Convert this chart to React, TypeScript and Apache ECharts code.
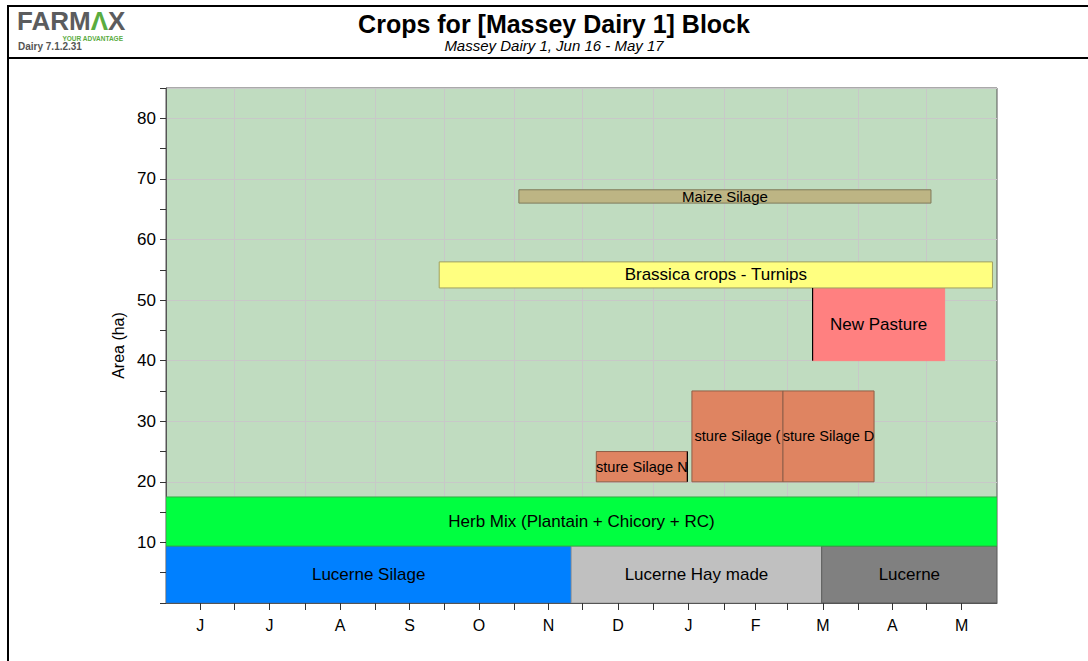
import React, { useEffect, useRef } from 'react';
import * as echarts from 'echarts';

// Days counted from 1 Jun 2016; the season ends 1 Jun 2017 (day 365)
const monthLabels = ['J', 'J', 'A', 'S', 'O', 'N', 'D', 'J', 'F', 'M', 'A', 'M'];
const monthStarts = [0, 30, 61, 92, 122, 153, 183, 214, 245, 273, 304, 334, 365];
const monthMids = monthLabels.map((_, i) => (monthStarts[i] + monthStarts[i + 1]) / 2);

// Crops (area bands in ha, time span in days)
const cropNames = [
  'Lucerne Silage',
  'Lucerne Hay made',
  'Lucerne',
  'Herb Mix (Plantain + Chicory + RC)',
  'sture Silage N',
  'sture Silage (',
  'sture Silage D',
  'New Pasture',
  'Brassica crops - Turnips',
  'Maize Silage',
];
const cropStart = [0, 178, 288, 0, 189, 231, 271, 284, 120, 155];
const cropEnd = [178, 288, 365, 365, 229, 271, 311, 342, 363, 336];
const cropLow = [0, 0, 0, 9.4, 20, 20, 20, 40, 52, 66];
const cropHigh = [9.4, 9.4, 9.4, 17.5, 25, 35, 35, 52, 56.3, 68.2];

// Dark edges seen on some blocks: [day, low, high]
const edgeDay = [284, 229];
const edgeLow = [40, 20];
const edgeHigh = [52, 25];

const yTicksMax = 80;

// styles (kept apart from the data)
const cropColors = ['#0080ff', '#c0c0c0', '#808080', '#00ff40', '#df8461', '#df8461', '#df8461', '#ff8080', '#ffff80', '#bdb584'];
const cropStrokes = ['#2a70c0', '#9a9a9a', '#5a5a5a', '#30b040', '#8f5f48', '#8f5f48', '#8f5f48', '#ff8080', '#a0a060', '#7f7a5a'];
const cropFontSize = [17, 17, 17, 17, 14.6, 14.6, 14.6, 17, 17, 15];

const FONT = '"Liberation Sans", Arial, sans-serif';

export default function App() {
  const ref = useRef<HTMLDivElement>(null);

  useEffect(() => {
    if (!ref.current) return;
    const chart = echarts.init(ref.current, null, { renderer: 'svg' });

    const cropData = cropNames.map((n, i) => ({
      name: n,
      value: [cropStart[i], cropEnd[i], cropLow[i], cropHigh[i]],
    }));
    const edgeData = edgeDay.map((d, i) => [d, edgeLow[i], edgeHigh[i]]);

    const option: any = {
      animation: false,
      textStyle: { fontFamily: FONT },
      grid: {
        left: 166,
        top: 88,
        right: 91,
        bottom: 58,
        show: true,
        backgroundColor: '#c0dcc0',
        borderColor: '#555',
        borderWidth: 1,
        outerBoundsMode: 'none',
      },
      xAxis: [
        {
          type: 'value',
          min: 0,
          max: 365,
          axisLine: { show: true, onZero: false, lineStyle: { color: '#555', width: 1 } },
          axisTick: { show: true, length: 7, customValues: monthStarts.slice(1, -1), lineStyle: { color: '#333' } },
          axisLabel: { show: false },
          splitLine: { show: true, lineStyle: { color: '#c8c8c8', width: 1 } },
        },
        {
          type: 'value',
          min: 0,
          max: 365,
          position: 'bottom',
          axisLine: { show: false, onZero: false },
          axisTick: { show: true, length: 7, customValues: monthMids, lineStyle: { color: '#333' } },
          axisLabel: {
            show: true,
            customValues: monthMids,
            margin: 14,
            fontSize: 16,
            color: '#000',
            fontFamily: FONT,
            formatter: (v: number) => {
              const idx = monthMids.findIndex((m) => Math.abs(m - v) < 0.01);
              return idx >= 0 ? monthLabels[idx] : '';
            },
          },
          splitLine: { show: false },
        },
      ],
      yAxis: {
        type: 'value',
        min: 0,
        max: 85,
        interval: 10,
        name: 'Area (ha)',
        nameLocation: 'middle',
        nameRotate: 90,
        nameGap: 38,
        nameTextStyle: { fontSize: 16, color: '#000', fontFamily: FONT },
        axisLine: { show: true, lineStyle: { color: '#555' } },
        axisTick: { show: true, length: 6, lineStyle: { color: '#333' } },
        minorTick: { show: true, splitNumber: 2, length: 6, lineStyle: { color: '#333' } },
        axisLabel: {
          fontSize: 17,
          color: '#000',
          margin: 10,
          fontFamily: FONT,
          showMinLabel: false,
          showMaxLabel: false,
          formatter: (v: number) => (v > 0 && v <= yTicksMax ? String(v) : ''),
        },
        splitLine: { show: true, lineStyle: { color: '#c8c8c8', width: 1 } },
      },
      series: [
        {
          type: 'custom',
          name: 'Crops',
          xAxisIndex: 0,
          yAxisIndex: 0,
          clip: true,
          encode: { x: [0, 1], y: [2, 3] },
          data: cropData,
          renderItem: (params: any, api: any) => {
            const i = params.dataIndex;
            const p0 = api.coord([api.value(0), api.value(3)]);
            const p1 = api.coord([api.value(1), api.value(2)]);
            const w = p1[0] - p0[0];
            const h = p1[1] - p0[1];
            return {
              type: 'rect',
              shape: { x: p0[0], y: p0[1], width: w, height: h },
              style: { fill: cropColors[i], stroke: cropStrokes[i], lineWidth: 1 },
              textContent: {
                style: {
                  text: cropNames[i],
                  fill: '#000',
                  font: `${cropFontSize[i]}px ${FONT}`,
                },
              },
              textConfig: { position: 'inside' },
            };
          },
        },
        {
          type: 'custom',
          name: 'Edges',
          xAxisIndex: 0,
          yAxisIndex: 0,
          encode: { x: 0, y: [1, 2] },
          data: edgeData,
          renderItem: (params: any, api: any) => {
            const a = api.coord([api.value(0), api.value(1)]);
            const b = api.coord([api.value(0), api.value(2)]);
            return {
              type: 'line',
              shape: { x1: a[0], y1: a[1], x2: b[0], y2: b[1] },
              style: { stroke: '#000', lineWidth: 1.2 },
            };
          },
        },
      ],
      graphic: [
        { type: 'line', shape: { x1: 8, y1: 6, x2: 1088, y2: 6 }, style: { stroke: '#000', lineWidth: 2 } },
        { type: 'line', shape: { x1: 8, y1: 58, x2: 1088, y2: 58 }, style: { stroke: '#000', lineWidth: 2 } },
        { type: 'line', shape: { x1: 8, y1: 5, x2: 8, y2: 661 }, style: { stroke: '#000', lineWidth: 2 } },
        {
          type: 'text',
          x: 17,
          y: 21,
          style: {
            text: '{a|FARM}{b|Λ}{a|X}',
            verticalAlign: 'middle',
            rich: {
              a: { fill: '#5b5c5e', font: `900 26px ${FONT}` },
              b: { fill: '#5aac3f', font: `900 26px ${FONT}` },
            },
          },
        },
        {
          type: 'text',
          x: 123,
          y: 38,
          style: {
            text: 'YOUR ADVANTAGE',
            fill: '#5aac3f',
            font: `bold 6.5px ${FONT}`,
            align: 'right',
            verticalAlign: 'middle',
          },
        },
        {
          type: 'text',
          x: 18,
          y: 46,
          style: {
            text: 'Dairy 7.1.2.31',
            fill: '#555',
            font: `bold 10px ${FONT}`,
            align: 'left',
            verticalAlign: 'middle',
          },
        },
        {
          type: 'text',
          x: 554,
          y: 24,
          style: {
            text: 'Crops for [Massey Dairy 1] Block',
            fill: '#000',
            font: `bold 25px ${FONT}`,
            align: 'center',
            verticalAlign: 'middle',
          },
        },
        {
          type: 'text',
          x: 554,
          y: 45,
          style: {
            text: 'Massey Dairy 1, Jun 16 - May 17',
            fill: '#000',
            font: `italic 15px ${FONT}`,
            align: 'center',
            verticalAlign: 'middle',
          },
        },
      ],
    };

    chart.setOption(option);
    return () => chart.dispose();
  }, []);

  return (
    <div
      ref={ref}
      style={{ position: 'fixed', left: 0, top: 0, width: 1088, height: 661, background: '#fff' }}
    />
  );
}
